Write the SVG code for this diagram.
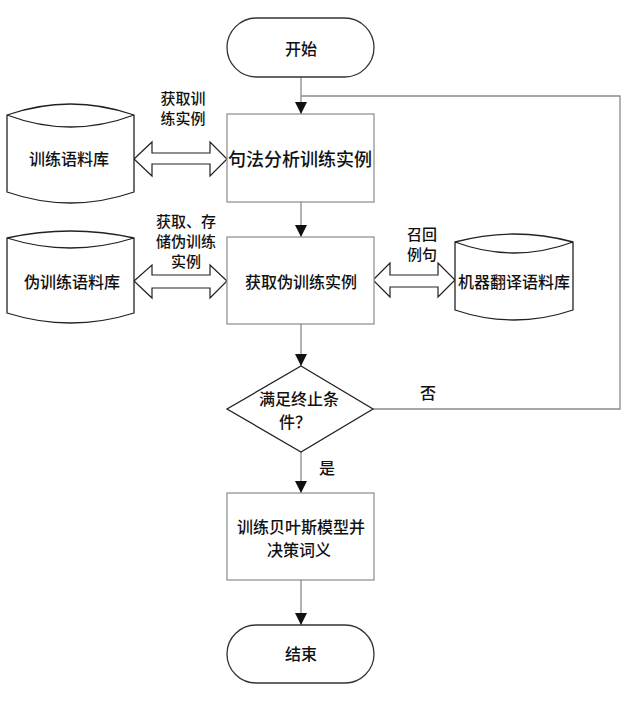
<svg xmlns="http://www.w3.org/2000/svg" width="627" height="705" viewBox="0 0 627 705">
<style>
text{font-family:"Noto Sans CJK SC","Noto Sans",sans-serif;font-size:16px;font-weight:500;fill:#111;text-anchor:middle;dominant-baseline:central}
.big{font-size:18px}
.lbl{font-size:15px}
.box{fill:#fff;stroke:#8a8a8a;stroke-width:1.2}
.term{fill:#fff;stroke:#333;stroke-width:1.3}
.dia{fill:#fff;stroke:#222;stroke-width:1.3}
.cyl{fill:#fff;stroke:#222;stroke-width:1.3}
.dbl{fill:#fff;stroke:#222;stroke-width:1.2}
.ln{fill:none;stroke:#8a8a8a;stroke-width:1.3}
</style>
<defs>
<marker id="ah" markerUnits="userSpaceOnUse" markerWidth="12" markerHeight="12" viewBox="0 0 12 12" refX="12" refY="6" orient="auto">
<path d="M0,0 L12,6 L0,12 Z" fill="#111"/>
</marker>
</defs>
<rect width="627" height="705" fill="#fff"/>
<g id="connectors">
<line class="ln" x1="301" y1="77" x2="301" y2="114" marker-end="url(#ah)"/>
<line class="ln" x1="301" y1="202" x2="301" y2="237" marker-end="url(#ah)"/>
<line class="ln" x1="301" y1="324" x2="301" y2="366" marker-end="url(#ah)"/>
<line class="ln" x1="301" y1="452" x2="301" y2="493" marker-end="url(#ah)"/>
<line class="ln" x1="301" y1="580" x2="301" y2="625" marker-end="url(#ah)"/>
<polyline class="ln" points="373,409 620,409 620,96 301,96"/>
<polygon id="arrow-corpus" class="dbl" points="134,159 152,142 152,153 210,153 210,142 227,159 210,176 210,164 152,164 152,176"/>
<polygon id="arrow-pseudo" class="dbl" points="134,281 152,265 152,275 210,275 210,265 227,281 210,298 210,288 152,288 152,298"/>
<polygon id="arrow-mt" class="dbl" points="373,280 390,263 390,275 438,275 438,263 455,280 438,297 438,287 390,287 390,297"/>
<text class="lbl" x="183" y="97">获取训</text>
<text class="lbl" x="183" y="117">练实例</text>
<text class="lbl" x="186" y="220">获取、存</text>
<text class="lbl" x="186" y="240">储伪训练</text>
<text class="lbl" x="186" y="260">实例</text>
<text class="lbl" x="422" y="233">召回</text>
<text class="lbl" x="422" y="253">例句</text>
<text x="428" y="392">否</text>
<text x="327" y="467">是</text>
</g>
<g id="start">
<rect class="term" x="227" y="18" width="147" height="59" rx="29.5" ry="29.5"/>
<text x="301" y="48">开始</text>
</g>
<g id="parse">
<rect class="box" x="227" y="114" width="147" height="88"/>
<text class="big" x="300" y="158">句法分析训练实例</text>
</g>
<g id="pseudo">
<rect class="box" x="227" y="237" width="147" height="87"/>
<text x="301" y="281">获取伪训练实例</text>
</g>
<g id="decision">
<polygon class="dia" points="301,366 373,409 301,452 227,409"/>
<text x="299" y="398">满足终止条</text>
<text x="295" y="421">件？</text>
</g>
<g id="train">
<rect class="box" x="227" y="493" width="147" height="87"/>
<text x="301" y="526">训练贝叶斯模型并</text>
<text x="299" y="549">决策词义</text>
</g>
<g id="end">
<rect class="term" x="227" y="625" width="147" height="58" rx="29" ry="29"/>
<text x="301" y="653">结束</text>
</g>
<g id="corpus">
<path class="cyl" d="M7,115 Q70.5,93 134,115 L134,192 Q70.5,214 7,192 Z M7,115 Q70.5,139 134,115"/>
<text x="69" y="158">训练语料库</text>
</g>
<g id="pseudo-corpus">
<path class="cyl" d="M7,238 Q70.5,224 134,238 L134,313 Q70.5,333 7,313 Z M7,238 Q70.5,258 134,238"/>
<text x="72" y="281">伪训练语料库</text>
</g>
<g id="mt-corpus">
<path class="cyl" d="M455,242 Q514,226 573,242 L573,310 Q514,330 455,310 Z M455,242 Q514,264 573,242"/>
<text x="514" y="281">机器翻译语料库</text>
</g>
</svg>
